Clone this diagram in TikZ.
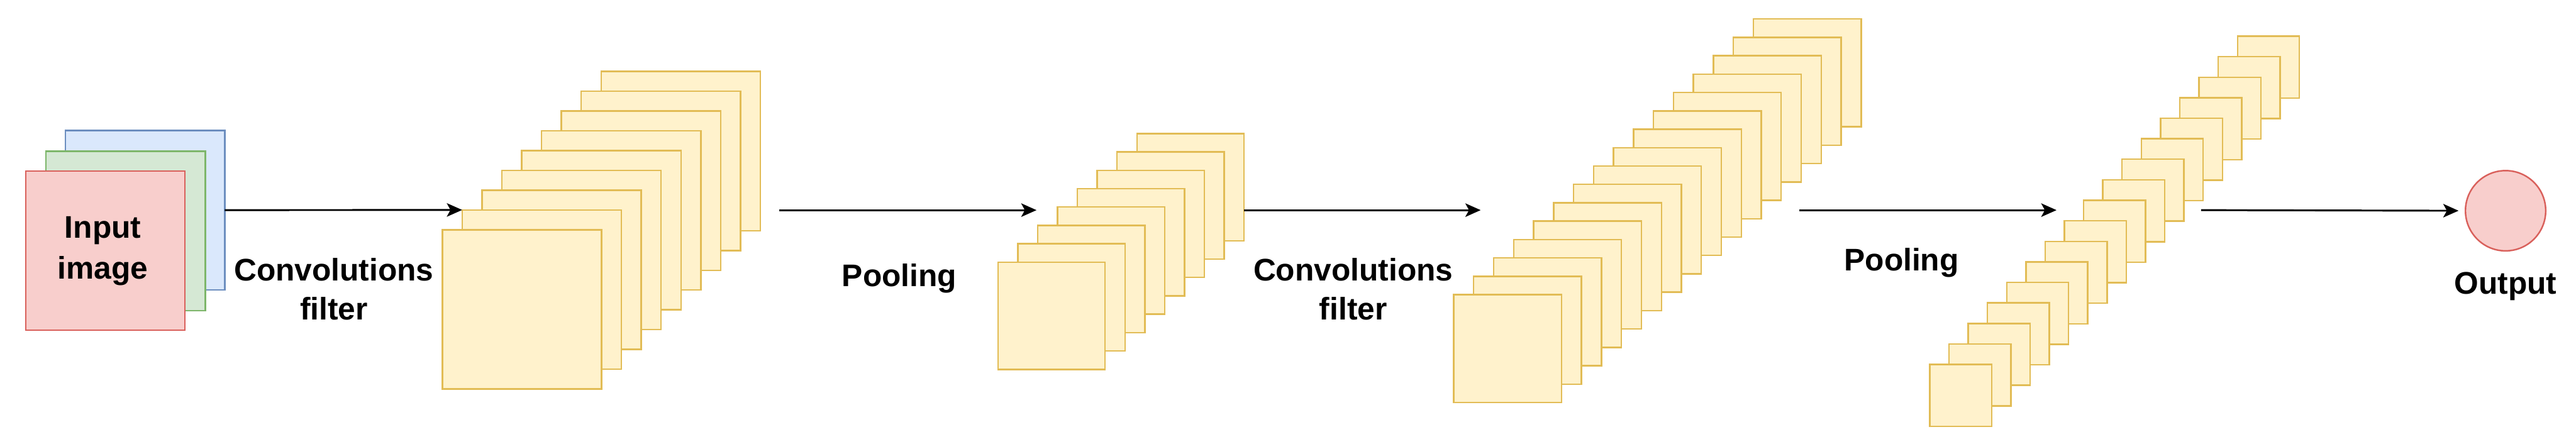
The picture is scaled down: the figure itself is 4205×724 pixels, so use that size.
\documentclass[tikz,border=0pt]{standalone}
\usepackage{fontspec}
\setmainfont{Liberation Sans}
\usetikzlibrary{arrows.meta}
\definecolor{yfill}{HTML}{FFF2CC}
\definecolor{ydraw}{HTML}{E2BC55}
\definecolor{rfill}{HTML}{F8CECC}
\definecolor{rdraw}{HTML}{D9605B}
\definecolor{gfill}{HTML}{D5E8D4}
\definecolor{gdraw}{HTML}{7DB66A}
\definecolor{bfill}{HTML}{DAE8FC}
\definecolor{bdraw}{HTML}{6C8EBF}
\tikzset{
  fmap/.style={draw=ydraw, fill=yfill, line width=2.5pt, inner sep=0pt, outer sep=0pt,
    anchor=north west, minimum width=#1, minimum height=#1},
  chan/.style 2 args={draw=#1, fill=#2, line width=2.5pt, inner sep=0pt, outer sep=0pt,
    anchor=north west, minimum width=260pt, minimum height=260pt},
  conn/.style={line width=3pt, -{Stealth[length=25pt,width=22pt,inset=6pt]}},
  lbl/.style={font=\fontsize{51}{64}\selectfont\bfseries, inner sep=0pt, align=center},
}
\begin{document}
\begin{tikzpicture}[x=1pt,y=-1pt]
\useasboundingbox (0,0) rectangle (4205,724);
% input channels
\node[chan={bdraw}{bfill}] (blue) at (107,213) {};
\node[chan={gdraw}{gfill}] (green) at (75,247) {};
\node[chan={rdraw}{rfill}] (red) at (42,279) {};
\node[lbl, anchor=north, font=\fontsize{51}{66}\selectfont\bfseries] (intxt) at (168,353.5) {Input\\image};
% stack 1
\foreach \i in {8,...,0} {
  \node[fmap=260pt] (s1-\i) at ({722+32.4*\i},{375-32.3*\i}) {};
}
% stack 2
\foreach \i in {7,...,0} {
  \node[fmap=175pt] (s2-\i) at ({1629+32.4*\i},{428-30*\i}) {};
}
% stack 3
\foreach \i in {15,...,0} {
  \node[fmap=176pt] (s3-\i) at ({2373+32.6*\i},{481-30*\i}) {};
}
% stack 4
\foreach \i in {16,...,0} {
  \node[fmap=101pt] (s4-\i) at ({3150+31.4*\i},{595-33.5*\i}) {};
}
% output
\node[circle, draw=rdraw, fill=rfill, line width=2.5pt, minimum size=131pt, inner sep=0pt] (out) at (4090,344) {};
\node[lbl, anchor=base] (outtxt) at (4090,480) {Output};
% labels
\node[lbl, anchor=north] (conv1) at (545,421) {Convolutions\\filter};
\node[lbl, anchor=base] (pool1) at (1468,468) {Pooling};
\node[lbl, anchor=north] (conv2) at (2209,421) {Convolutions\\filter};
\node[lbl, anchor=base] (pool2) at (3104,442) {Pooling};
% connector end points
\coordinate (a2s) at (1272,343);
\coordinate (a2e) at (1692,343);
\coordinate (a3s) at (2031,343);
\coordinate (a3e) at (2417,343);
\coordinate (a4s) at (2937,343);
\coordinate (a4e) at (3357,343);
\coordinate (a5s) at (3593,343);
% connectors
\draw[conn] (blue.east) -- (s1-1.north west);
\draw[conn] (a2s) -- (a2e);
\draw[conn] (a3s) -- (a3e);
\draw[conn] (a4s) -- (a4e);
\draw[conn, shorten >=10pt] (a5s) -- (out.west);
\end{tikzpicture}
\end{document}
